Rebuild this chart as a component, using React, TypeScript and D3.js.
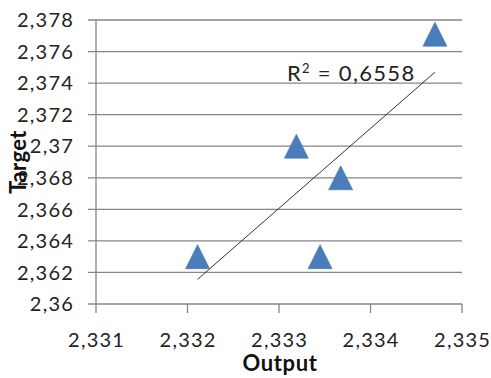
import React from "react";
import * as d3 from "d3";

const outputValues = [2.33211, 2.33319, 2.333674, 2.333449, 2.334704];
const targetValues = [2.363, 2.370, 2.368, 2.363, 2.3771];
const xTicks = [2.331, 2.332, 2.333, 2.334, 2.335];
const yTicks = [2.36, 2.362, 2.364, 2.366, 2.368, 2.37, 2.372, 2.374, 2.376, 2.378];
const rSquaredValue = "0,6558";
const xTitle = "Output";
const yTitle = "Target";

const W = 491;
const H = 378;
const left = 96;
const right = 462;
const top = 20;
const bottom = 304;
const FONT = "Lato, 'Open Sans', sans-serif";

const fmt = (v: number) => String(+v.toFixed(3)).replace(".", ",");

export default function App() {
  const x = d3.scaleLinear().domain([2.331, 2.335]).range([left, right]);
  const y = d3.scaleLinear().domain([2.36, 2.378]).range([bottom, top]);

  const pts = outputValues.map((v, i) => ({ x: v, y: targetValues[i] }));
  const mx = d3.mean(pts, (p) => p.x)!;
  const my = d3.mean(pts, (p) => p.y)!;
  const sxy = d3.sum(pts, (p) => (p.x - mx) * (p.y - my));
  const sxx = d3.sum(pts, (p) => (p.x - mx) * (p.x - mx));
  const slope = sxy / sxx;
  const intercept = my - slope * mx;
  const [x0, x1] = d3.extent(outputValues) as [number, number];
  const line = d3.line<number>().x((d) => x(d)).y((d) => y(slope * d + intercept));

  const tw = 12;
  const triPath = `M0,${-tw}L${tw},${tw}L${-tw},${tw}Z`;

  const grid = "#868686";

  return (
    <svg
      width={W}
      height={H}
      style={{ position: "absolute", left: 0, top: 0, background: "#fff" }}
    >
      {yTicks.map((t) => (
        <g key={"y" + t}>
          <line x1={left - 8} x2={right} y1={y(t)} y2={y(t)} stroke={grid} strokeWidth={1.3} />
          <text
            x={74}
            y={y(t)}
            dy="0.36em"
            textAnchor="end"
            fontFamily={FONT}
            fontSize={20}
            letterSpacing={1.2}
            fill="#222"
          >
            {fmt(t)}
          </text>
        </g>
      ))}
      <line x1={left} x2={left} y1={top} y2={bottom} stroke={grid} strokeWidth={1.3} />
      {xTicks.map((t) => (
        <g key={"x" + t}>
          <line x1={x(t)} x2={x(t)} y1={bottom} y2={bottom + 9} stroke={grid} strokeWidth={1.3} />
          <text
            x={x(t) + 0.6}
            y={347}
            textAnchor="middle"
            fontFamily={FONT}
            fontSize={20}
            letterSpacing={1.2}
            fill="#222"
          >
            {fmt(t)}
          </text>
        </g>
      ))}
      <path d={line([x0, x1]) || ""} stroke="#333" strokeWidth={1} fill="none" />
      {pts.map((p, i) => (
        <path
          key={i}
          d={triPath}
          transform={`translate(${x(p.x)},${y(p.y)})`}
          fill="#4A7EBB"
          stroke="#3F72B0"
          strokeWidth={0.6}
        />
      ))}
      <text x={287} y={81} fontFamily={FONT} fontSize={22} letterSpacing={1.3} fill="#222">
        R
        <tspan fontSize={13} dy={-8}>2</tspan>
        <tspan dy={8}>{" = " + rSquaredValue}</tspan>
      </text>
      <text
        x={280}
        y={371}
        textAnchor="middle"
        fontFamily={FONT}
        fontSize={22}
        letterSpacing={0.6}
        fontWeight="bold"
        fill="#111"
      >
        {xTitle}
      </text>
      <text
        transform={`translate(26,162) rotate(-90)`}
        textAnchor="middle"
        fontFamily={FONT}
        fontSize={22}
        letterSpacing={0.4}
        fontWeight="bold"
        fill="#111"
      >
        {yTitle}
      </text>
    </svg>
  );
}
